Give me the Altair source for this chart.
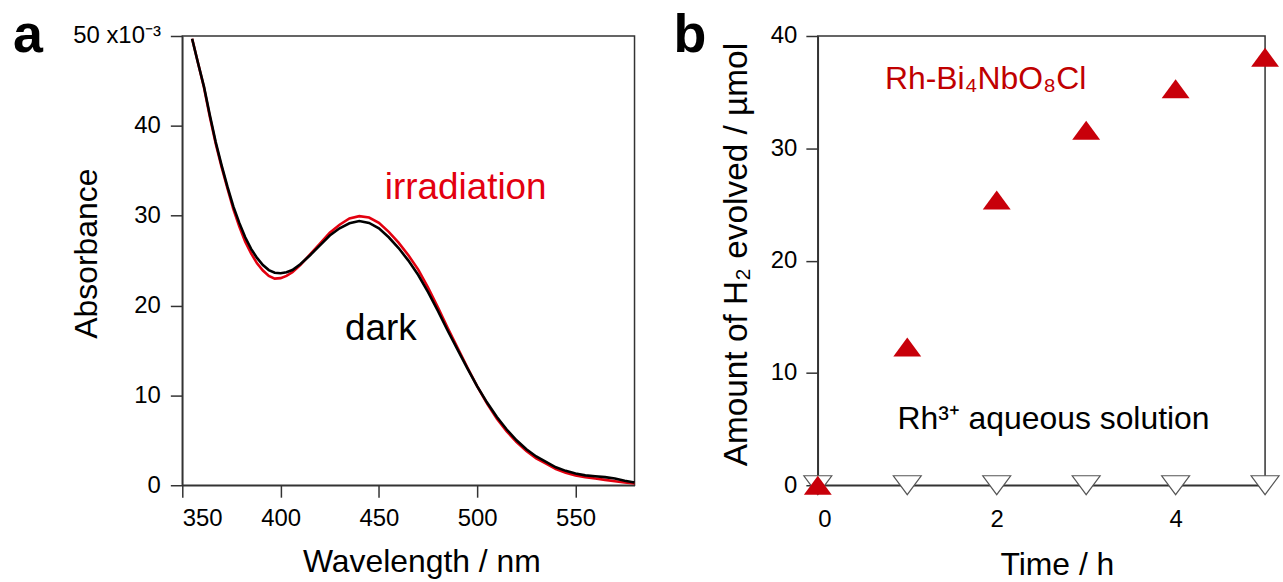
import altair as alt
import pandas as pd

FONT = "Liberation Sans"

# ---- Panel a: absorption spectra ----
wavelength = [355, 358, 361, 364, 367, 370, 373, 376, 379, 382, 385, 388, 391, 394, 397,
              400, 403, 406, 410, 415, 420, 425, 430, 435, 440, 445, 450, 455, 460, 465,
              470, 475, 480, 485, 490, 495, 500, 505, 510, 515, 520, 525, 530, 535, 540,
              545, 550, 555, 560, 565, 570, 575, 580]
dark = [49.7, 47.0, 44.4, 41.2, 38.2, 35.6, 33.2, 31.0, 29.2, 27.6, 26.3, 25.3, 24.5, 23.95, 23.65,
        23.6, 23.7, 23.95, 24.6, 25.6, 26.7, 27.8, 28.6, 29.15, 29.4, 29.2, 28.6, 27.6, 26.4, 25.0,
        23.4, 21.5, 19.4, 17.2, 15.1, 13.0, 11.0, 9.2, 7.6, 6.2, 5.0, 4.0, 3.2, 2.6, 2.0,
        1.6, 1.3, 1.1, 1.0, 0.9, 0.75, 0.5, 0.3]
irradiation = [49.7, 47.0, 44.3, 41.0, 38.0, 35.4, 33.0, 30.7, 28.8, 27.1, 25.8, 24.7, 23.9, 23.3, 23.0,
               23.05, 23.3, 23.7, 24.5, 25.7, 26.9, 28.1, 29.0, 29.7, 29.95, 29.8, 29.2, 28.2, 27.0, 25.6,
               24.0, 22.0, 19.8, 17.5, 15.3, 13.1, 11.0, 9.1, 7.4, 6.0, 4.8, 3.8, 3.0, 2.4, 1.8,
               1.4, 1.1, 0.9, 0.75, 0.6, 0.45, 0.3, 0.2]

spec_labels = ["irradiation", "dark"]
spec_label_x = [453, 432.7]
spec_label_y = [33.1, 17.4]
spec_label_color = ["#e3000f", "#000000"]

# ---- Panel b: H2 evolution ----
time_h = [0, 1, 2, 3, 4, 5]
h2_rh_bi = [0.0, 12.3, 25.4, 31.6, 35.3, 38.1]
h2_rh_aq = [0.0, 0.0, 0.0, 0.0, 0.0, 0.0]

b_labels = ["Rh-Bi₄NbO₈Cl", "Rh³⁺ aqueous solution"]
b_label_x = [0.75, 0.89]
b_label_y = [36.2, 5.9]
b_label_color = ["#c00000", "#000000"]

RED_SPEC = "#e3000f"
RED_TRI = "#c8000a"

df_dark = pd.DataFrame({"wl": wavelength, "A": dark})
df_irr = pd.DataFrame({"wl": wavelength, "A": irradiation})
df_spec_lab = pd.DataFrame({"wl": spec_label_x, "A": spec_label_y,
                            "label": spec_labels, "color": spec_label_color})

LABEL_FS = 24
TITLE_FS = 32

xa = alt.X("wl:Q", scale=alt.Scale(domain=[350, 580], nice=False, zero=False),
           axis=alt.Axis(values=[350, 400, 450, 500, 550], tickSize=12, labelPadding=9,
                         labelFontSize=LABEL_FS, title="Wavelength / nm", titleFontSize=TITLE_FS,
                         titleX=240, titleY=77, titleBaseline="middle"))
ya = alt.Y("A:Q", scale=alt.Scale(domain=[0, 50], nice=False),
           axis=alt.Axis(values=[0, 10, 20, 30, 40, 50], tickSize=12, labelPadding=10,
                         labelFontSize=LABEL_FS,
                         labelExpr="datum.value == 50 ? '50 x10⁻³' : datum.label",
                         title="Absorbance", titleFontSize=TITLE_FS,
                         titleX=-96, titleY=218, titleBaseline="middle"))

line_irr = alt.Chart(df_irr).mark_line(color=RED_SPEC, strokeWidth=2.6).encode(x=xa, y=ya)
line_dark = alt.Chart(df_dark).mark_line(color="#000000", strokeWidth=2.6).encode(x="wl:Q", y="A:Q")
spec_text = alt.Chart(df_spec_lab).mark_text(align="left", baseline="middle", fontSize=37,
                                              font=FONT).encode(
    x="wl:Q", y="A:Q", text="label:N", color=alt.Color("color:N", scale=None))
letter_a = alt.Chart(pd.DataFrame({"t": ["a"]})).mark_text(
    align="left", baseline="alphabetic", fontSize=54, fontWeight="bold", font=FONT,
    color="black").encode(x=alt.value(-170), y=alt.value(16), text="t:N")

panel_a = alt.layer(line_irr, line_dark, spec_text, letter_a).properties(width=454, height=451)

# Panel b
df_aq = pd.DataFrame({"t": time_h, "h2": h2_rh_aq})
df_bi = pd.DataFrame({"t": time_h, "h2": h2_rh_bi})
df_b_lab = pd.DataFrame({"t": b_label_x, "h2": b_label_y,
                         "label": b_labels, "color": b_label_color})

xb = alt.X("t:Q", scale=alt.Scale(domain=[0, 5], nice=False),
           axis=alt.Axis(values=[0, 2, 4], format="d", ticks=False, labelPadding=22,
                         labelFontSize=LABEL_FS, title="Time / h", titleFontSize=TITLE_FS,
                         titleX=240, titleY=80, titleBaseline="middle"))
yb = alt.Y("h2:Q", scale=alt.Scale(domain=[0, 40], nice=False),
           axis=alt.Axis(values=[0, 10, 20, 30, 40], tickSize=12, labelPadding=9,
                         labelFontSize=LABEL_FS, title="Amount of H₂ evolved /  µmol",
                         titleFontSize=33.5, titleX=-82, titleY=219, titleBaseline="middle"))

TRI_UP = "M0,-0.68L1,0.68L-1,0.68Z"
TRI_DOWN = "M-1,-0.68L1,-0.68L0,0.68Z"

pts_aq = alt.Chart(df_aq).mark_point(shape=TRI_DOWN, size=784, filled=True, fill="white",
                                     stroke="#555555", strokeWidth=1.2, opacity=1).encode(x=xb, y=yb)
pts_bi = alt.Chart(df_bi).mark_point(shape=TRI_UP, size=784, filled=True, color=RED_TRI,
                                     opacity=1).encode(x="t:Q", y="h2:Q")
b_text = alt.Chart(df_b_lab).mark_text(align="left", baseline="middle", fontSize=32,
                                       font=FONT).encode(
    x="t:Q", y="h2:Q", text="label:N", color=alt.Color("color:N", scale=None))
letter_b = alt.Chart(pd.DataFrame({"t": ["b"]})).mark_text(
    align="left", baseline="alphabetic", fontSize=54, fontWeight="bold", font=FONT,
    color="black").encode(x=alt.value(-145), y=alt.value(16), text="t:N")

panel_b = alt.layer(pts_aq, pts_bi, b_text, letter_b).properties(width=449, height=451)

chart = alt.hconcat(panel_a, panel_b, spacing=184, bounds="flush").properties(
    padding={"left": 12, "top": 7, "right": 0, "bottom": 0},
    background="white",
).configure_view(
    stroke="#333333", strokeWidth=1.5
).configure_axis(
    domainColor="#333333", domainWidth=1.5, tickColor="#333333", tickWidth=1.5,
    labelColor="black", titleColor="black", labelFont=FONT, titleFont=FONT,
    titleFontWeight="normal", grid=False
)

chart.save("out.html", embed_options={"renderer": "svg", "actions": False})
